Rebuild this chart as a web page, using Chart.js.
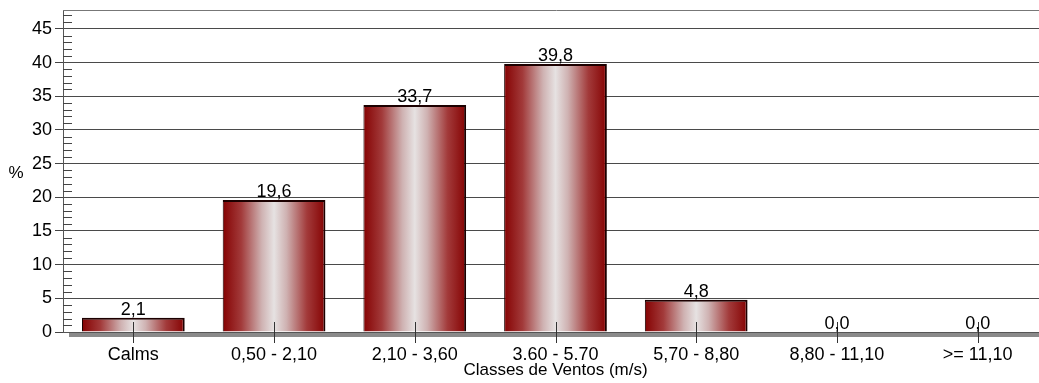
<!DOCTYPE html>
<html>
<head>
<meta charset="utf-8">
<script src="https://cdn.jsdelivr.net/npm/chart.js@4"></script>
<style>
  html, body { margin: 0; padding: 0; background: #fff; overflow: hidden; width: 1039px; height: 383px; }
  canvas { display: block; }
</style>
</head>
<body>
<canvas id="c" width="1050" height="383"></canvas>
<script>
// Wind speed class frequencies (%)
const categories = ['Calms', '0,50 - 2,10', '2,10 - 3,60', '3.60 - 5.70', '5,70 - 8,80', '8,80 - 11,10', '>= 11,10'];
const frequencies = [2.1, 19.6, 33.7, 39.8, 4.8, 0.0, 0.0];
const yTickStep = 5;
const yMax = 47.8;
const yAxisLabel = '%';
const xAxisLabel = 'Classes de Ventos (m/s)';

const FONT = '"Liberation Sans", Arial, sans-serif';
const BAR_PCT = 0.73;
const EDGE = '#860303';

function barGradient(c) {
  const chart = c.chart;
  const xs = chart.scales && chart.scales.x;
  if (!xs || c.dataIndex === undefined) return EDGE;
  const cx = xs.getPixelForValue(c.dataIndex);
  const half = xs.width / categories.length * BAR_PCT / 2;
  if (!isFinite(cx) || !isFinite(half) || half <= 0) return EDGE;
  const g = chart.ctx.createLinearGradient(cx - half, 0, cx + half, 0);
  g.addColorStop(0.00, '#850202');
  g.addColorStop(0.18, '#a23a3a');
  g.addColorStop(0.38, '#cfb2b2');
  g.addColorStop(0.50, '#e6e2e2');
  g.addColorStop(0.62, '#cfb2b2');
  g.addColorStop(0.82, '#a23a3a');
  g.addColorStop(1.00, '#850202');
  return g;
}

const decorations = {
  id: 'decorations',
  beforeDraw(chart) {
    const ctx = chart.ctx;
    ctx.save();
    ctx.fillStyle = '#fff';
    ctx.fillRect(0, 0, chart.width, chart.height);
    ctx.restore();
  },
  beforeDatasetsDraw(chart) {
    const { ctx, chartArea, scales } = chart;
    const ys = scales.y;
    ctx.save();
    // top frame line of the plot
    ctx.strokeStyle = '#777';
    ctx.lineWidth = 1;
    ctx.beginPath();
    ctx.moveTo(chartArea.left, Math.round(chartArea.top) + 0.5);
    ctx.lineTo(chart.width, Math.round(chartArea.top) + 0.5);
    ctx.stroke();
    // floor band under the category axis
    ctx.fillStyle = '#8a8a8a';
    ctx.fillRect(chartArea.left + 6, chartArea.bottom + 1, chart.width, 4);
    // minor ticks on the value axis
    ctx.strokeStyle = '#444';
    ctx.beginPath();
    for (let v = 1; v < yMax; v++) {
      if (v % yTickStep === 0) continue;
      const y = Math.round(ys.getPixelForValue(v)) + 0.5;
      ctx.moveTo(chartArea.left, y);
      ctx.lineTo(chartArea.left + 9, y);
    }
    ctx.stroke();
    ctx.restore();
  },
  afterDatasetsDraw(chart) {
    const { ctx, chartArea, scales } = chart;
    const xs = scales.x;
    ctx.save();
    // category tick marks crossing the axis
    ctx.strokeStyle = '#333';
    ctx.lineWidth = 1;
    ctx.beginPath();
    categories.forEach((_, i) => {
      const x = Math.round(xs.getPixelForTick(i)) + 0.5;
      ctx.moveTo(x, chartArea.bottom - 10);
      ctx.lineTo(x, chartArea.bottom + 11);
    });
    ctx.stroke();
    // value labels above bars
    const meta = chart.getDatasetMeta(0);
    ctx.fillStyle = '#000';
    ctx.font = '18px ' + FONT;
    ctx.textAlign = 'center';
    ctx.textBaseline = 'alphabetic';
    meta.data.forEach((bar, i) => {
      const txt = frequencies[i].toFixed(1).replace('.', ',');
      ctx.fillText(txt, bar.x, bar.y - 3);
    });
    // value axis label
    ctx.textAlign = 'center';
    ctx.textBaseline = 'middle';
    ctx.font = '17px ' + FONT;
    ctx.fillText(yAxisLabel, 16, 173);
    ctx.restore();
  }
};

new Chart(document.getElementById('c'), {
  type: 'bar',
  data: {
    labels: categories,
    datasets: [{
      data: frequencies,
      backgroundColor: barGradient,
      borderColor: '#1c0000',
      borderWidth: { top: 2, left: 1, right: 2, bottom: 0 },
      borderSkipped: 'bottom',
      barPercentage: BAR_PCT,
      categoryPercentage: 1.0
    }]
  },
  options: {
    responsive: false,
    animation: false,
    devicePixelRatio: 1,
    layout: { padding: { top: 10, right: 2, left: 0, bottom: 0 } },
    plugins: { legend: { display: false }, tooltip: { enabled: false }, title: { display: false } },
    scales: {
      x: {
        offset: true,
        grid: { display: true, drawOnChartArea: false, drawTicks: false },
        border: { display: true, color: '#555', width: 1 },
        ticks: { color: '#000', font: { family: FONT, size: 18 }, padding: 12, maxRotation: 0, autoSkip: false },
        title: { display: true, text: xAxisLabel, color: '#000', font: { family: FONT, size: 17 }, padding: { top: 0, bottom: 2 } },
        afterFit(scale) { scale.height = 51; }
      },
      y: {
        min: 0,
        max: yMax,
        ticks: {
          stepSize: yTickStep,
          includeBounds: false,
          color: '#000',
          font: { family: FONT, size: 18 },
          padding: 3
        },
        grid: {
          color: (c) => (c.tick && c.tick.value === 0 ? 'rgba(0,0,0,0)' : '#4a4a4a'),
          tickColor: '#444',
          tickLength: 8,
          lineWidth: 1
        },
        border: { display: true, color: '#555', width: 1 },
        afterFit(scale) {
          scale.width = 63;
          scale.paddingTop = 0;
          scale.paddingBottom = 0;
        }
      }
    }
  },
  plugins: [decorations]
});
</script>
</body>
</html>
